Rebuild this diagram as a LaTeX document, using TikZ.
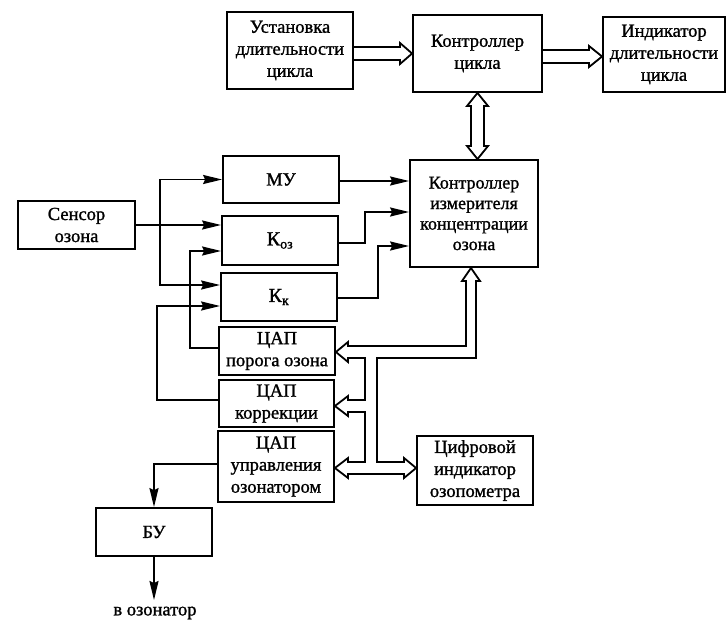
\documentclass[tikz,border=0pt]{standalone}
\usepackage{fontspec}
\setmainfont{Liberation Serif}[FakeBold=1.2]
\usetikzlibrary{arrows.meta,calc}
\begin{document}
\begin{tikzpicture}[x=1pt,y=-1pt,
  box/.style={draw, line width=1.8pt, align=center, inner sep=0pt,
    font=\fontsize{18.5}{22}\selectfont},
  sz/.style 2 args={minimum width=#1pt, minimum height=#2pt},
  conn/.style={line width=1.8pt, line join=miter},
  arr/.style={conn, -{Stealth[length=19pt,width=9pt,inset=2pt]}}]
\useasboundingbox[fill=white] (0,0) rectangle (727,624);

% boxes
\node[box,sz={126}{77}] (ust) at (290,50.5) {Установка\\длительности\\цикла};
\node[box,sz={129}{77}] (kc) at (477.5,53.5) {Контроллер\\цикла};
\node[box,sz={122}{75}] (ind) at (664,54.5) {Индикатор\\длительности\\цикла};
\node[box,sz={128}{107},font=\fontsize{18}{20.5}\selectfont] (kizm) at (474,213.5) {Контроллер\\измерителя\\концентрации\\озона};
\node[box,sz={117}{48}] (sens) at (76.5,225) {Сенсор\\озона};
\node[box,sz={116}{47}] (mu) at (281,179.5) {МУ};
\node[box,sz={116}{49},font=\fontsize{20}{22}\selectfont] (koz) at (280,240.5) {К\textsubscript{оз}};
\node[box,sz={116}{48},font=\fontsize{20}{22}\selectfont] (kk) at (279,297) {К\textsubscript{к}};
\node[box,sz={116}{48}] (dp) at (277,351) {ЦАП\\порога озона};
\node[box,sz={115}{47}] (dk) at (276.5,403.5) {ЦАП\\коррекции};
\node[box,sz={116}{71}] (du) at (276,466.5) {ЦАП\\управления\\озонатором};
\node[box,sz={116}{69}] (ci) at (475,470.5) {Цифровой\\индикатор\\озопометра};
\node[box,sz={116}{48}] (bu) at (154,532) {БУ};
\node[font=\fontsize{18.5}{22}\selectfont, inner sep=0pt] (out) at (155,613) {в озонатор};

% hollow double arrows at top
\draw[conn] (ust.east |- 0,47) -- (400,47) -- (400,43) -- (kc.west) -- (400,64) -- (400,60) -- (ust.east |- 0,60);
\draw[conn] (kc.east |- 0,50) -- (589,50) -- (589,46) -- (ind.west |- 0,56.5) -- (589,67) -- (589,63) -- (kc.east |- 0,63);
\draw[conn] (471,106) -- (471,146) -- (467,146) -- (kc.south |- kizm.north) -- (488,146) -- (484,146)
  -- (484,106) -- (488,106) -- (kc.south) -- (467,106) -- cycle;

% bus
\draw[conn] (466,281) -- (466,346) -- (348,346) -- (348,342) -- (dp.east |- 0,352) -- (348,362) -- (348,358)
  -- (365,358) -- (365,400) -- (348,400) -- (348,396) -- (dk.east |- 0,406) -- (348,416) -- (348,412)
  -- (365,412) -- (365,462) -- (348,462) -- (348,458) -- (du.east |- 0,468) -- (348,478) -- (348,474)
  -- (404,474) -- (404,478) -- (ci.west |- 0,468) -- (404,458) -- (404,462) -- (377,462) -- (377,358)
  -- (476,358) -- (476,281) -- (480,281) -- (471,268) -- (462,281) -- cycle;

% sensor outputs
\draw[arr] (sens.east) -- (sens.east -| koz.west);
\coordinate (j) at (160,225);
\draw[arr] (j) |- (mu.west);
\draw[arr] (j) |- (kk.west |- 0,285);

% feedback from DACs
\draw[arr] (dp.west |- 0,348) -- (190,348) |- (koz.west |- 0,251);
\draw[arr] (dk.west |- 0,400) -- (157,400) |- (kk.west |- 0,306);

% to measuring controller
\draw[arr] (mu.east |- 0,181) -- (kizm.west |- 0,181);
\draw[arr] (koz.east |- 0,243) -- (365,243) |- (kizm.west |- 0,212);
\draw[arr] (kk.east |- 0,298) -- (378,298) |- (kizm.west |- 0,246);

% to BU and ozonator
\draw[arr] (du.west |- 0,464) -- (bu.north |- 0,464) -- (bu.north);
\draw[arr] (bu.south) -- (bu.south |- 0,600);
\end{tikzpicture}
\end{document}
